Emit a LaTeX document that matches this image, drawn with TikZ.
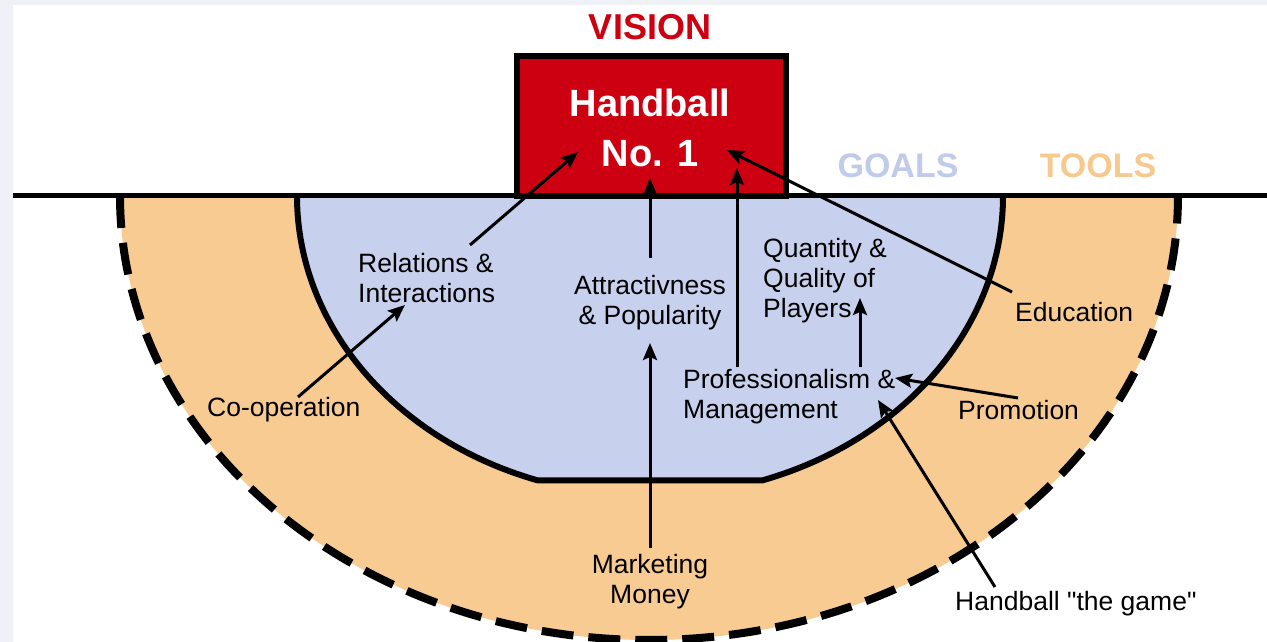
\documentclass[tikz,border=0pt]{standalone}
\usepackage{fontspec}
\setmainfont{Liberation Sans}
\newfontfamily\qfont{Liberation Sans}[Ligatures=TeXOff]
\usetikzlibrary{arrows.meta}
\definecolor{hred}{RGB}{204,0,16}
\definecolor{hblue}{RGB}{199,208,236}
\definecolor{hpeach}{RGB}{247,203,146}
\definecolor{goalc}{RGB}{192,202,234}
\definecolor{toolc}{RGB}{246,201,142}
\definecolor{edgec}{RGB}{238,242,247}
\begin{document}
\begin{tikzpicture}[x=1pt,y=1pt,
  lbl/.style={inner sep=0pt, font=\fontsize{26.5}{30}\selectfont, align=left},
  clbl/.style={inner sep=0pt, font=\fontsize{26.5}{30}\selectfont, align=center},
  arr/.style={line width=3pt, -{Stealth[length=17pt,width=14pt,inset=3pt]}},
  headtxt/.style={inner sep=0pt, font=\fontsize{34}{40}\selectfont\bfseries},
  boxtxt/.style={inner sep=0pt, text=white, font=\fontsize{38}{44}\selectfont\bfseries}
]
\useasboundingbox (0,0) rectangle (1267,642);
\fill[white] (0,0) rectangle (1267,642);
\fill[edgec] (0,0) rectangle (13,642);
\fill[edgec] (0,637) rectangle (1267,642);

% outer tools region
\draw[fill=hpeach, line width=8pt, dash pattern=on 32pt off 15pt]
  (120,446) arc[start angle=180, end angle=360, x radius=529, y radius=444];

% inner goals region
\path (650,446) ++(251.5:353 and 300) coordinate (ibl);
\path (650,446) ++(288.5:353 and 300) coordinate (ibr);
\draw[fill=hblue, line width=6pt]
  (297,446) arc[start angle=180, end angle=251.5, x radius=353, y radius=300]
  -- (ibr) arc[start angle=288.5, end angle=360, x radius=353, y radius=300];

% vision box
\node (box) [draw=black, line width=6pt, fill=hred, minimum width=269pt,
  minimum height=140pt, inner sep=0pt] at (651.5,516) {};

% base line
\draw[line width=5pt] (13,446) -- (1267,446);

% headings
\node (vision) [headtxt, text=hred, font=\fontsize{36}{40}\selectfont\bfseries] at (650,615) {VISION};
\node (hb) [boxtxt] at (650,539) {Handball};
\node (no1) [boxtxt] at (650,488) {No. 1};
\node (goals) [headtxt, text=goalc] at (898,476) {GOALS};
\node (tools) [headtxt, text=toolc] at (1098,476) {TOOLS};

% labels
\node (rel) [lbl, anchor=west] at (358,364) {Relations \&\\Interactions};
\node (coop) [lbl, anchor=west] at (207,232) {Co-operation};
\node (attr) [clbl] at (650,339) {Attractivness\\\& Popularity};
\node (quant) [lbl, anchor=west] at (763,361) {Quantity \&\\Quality of\\Players};
\node (prof) [lbl, anchor=west] at (683,245) {Professionalism \&\\Management};
\node (edu) [lbl, anchor=west] at (1015,330) {Education};
\node (promo) [lbl, anchor=west] at (958,232) {Promotion};
\node (mkt) [clbl] at (650,60) {Marketing\\Money};
\node (game) [lbl, anchor=west, font=\qfont\fontsize{26.5}{30}\selectfont] at (955,38) {Handball "the game"};

% arrow end points
\coordinate (relT) at (470,397);
\coordinate (boxA) at (578,490);
\coordinate (coopT) at (298,245);
\coordinate (intH) at (405,337);
\coordinate (attrT) at (650,384);
\coordinate (boxB) at (650,464);
\coordinate (mktT) at (650,94);
\coordinate (popH) at (650,299);
\coordinate (profT1) at (737,275);
\coordinate (boxC) at (737,474);
\coordinate (eduT) at (1012,350);
\coordinate (boxD) at (727,492);
\coordinate (profT2) at (860,275);
\coordinate (quantH) at (860,344);
\coordinate (promoT) at (1018,244);
\coordinate (profH) at (895,264);
\coordinate (gameT) at (995,55);
\coordinate (profH2) at (878,242);

% arrows
\draw[arr] (relT) -- (boxA);
\draw[arr] (coopT) -- (intH);
\draw[arr] (attrT) -- (boxB);
\draw[arr] (mktT) -- (popH);
\draw[arr] (profT1) -- (boxC);
\draw[arr] (eduT) -- (boxD);
\draw[arr] (profT2) -- (quantH);
\draw[arr] (promoT) -- (profH);
\draw[arr] (gameT) -- (profH2);
\end{tikzpicture}
\end{document}
